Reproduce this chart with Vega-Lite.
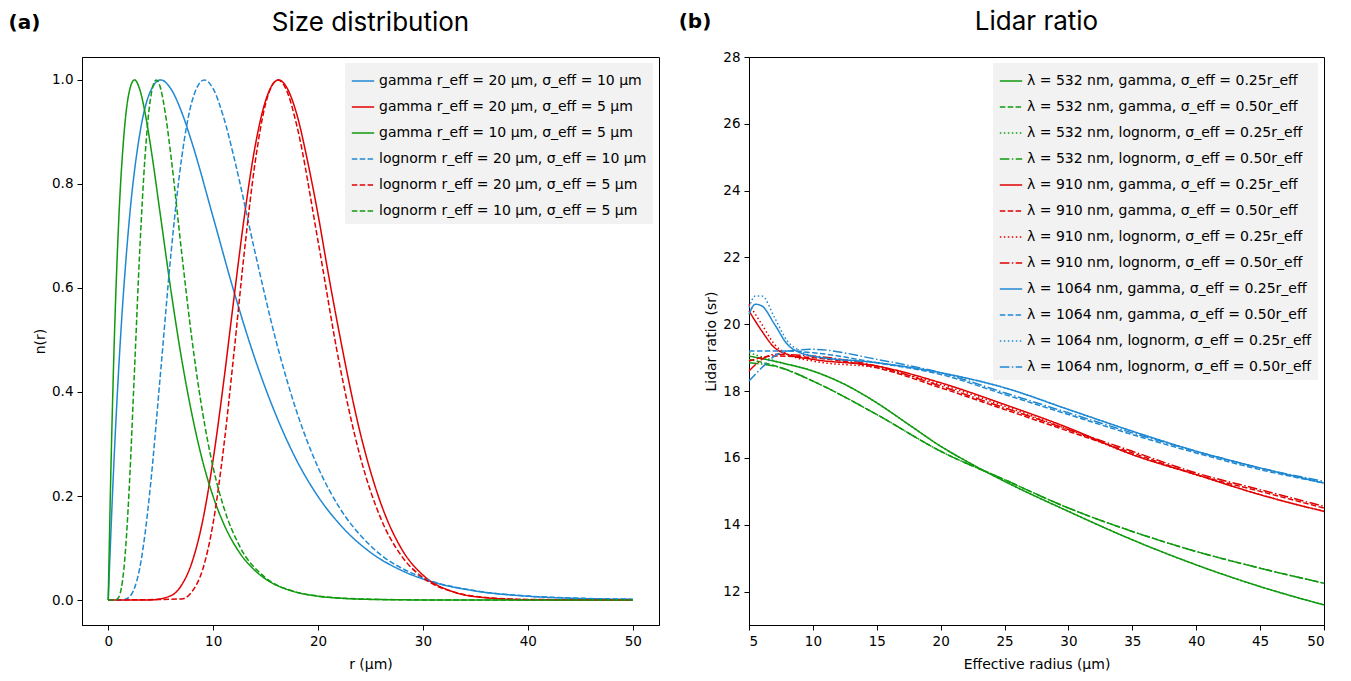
{
  "$schema": "https://vega.github.io/schema/vega-lite/v6.json",
  "padding": {"left": 8, "top": 8, "right": 5, "bottom": 0},
  "spacing": 18,
  "config": {
    "font": "DejaVu Sans",
    "view": {"stroke": "black", "strokeWidth": 1},
    "axis": {"grid": false, "domainColor": "black", "tickColor": "black", "labelFontSize": 13.5, "titleFontSize": 14, "titleFontWeight": "normal", "labelColor": "black", "titleColor": "black", "tickSize": 5, "labelPadding": 4},
    "axisX": {"titlePadding": 10},
    "legend": {"orient": "top-right", "fillColor": "#f2f2f2", "padding": 6, "offset": 6, "labelFontSize": 14, "symbolType": "stroke", "symbolStrokeWidth": 1.5, "symbolSize": 500, "rowPadding": 7, "labelLimit": 400, "title": null}
  },
  "resolve": {"scale": {"color": "independent", "strokeDash": "independent"}},
  "hconcat": [
    {
      "width": 577,
      "height": 568,
      "layer": [
        {
          "data": {"values": [
            {"s":"g1","r":0,"n":0},{"s":"g1","r":0.5,"n":0.246},{"s":"g1","r":1,"n":0.445},{"s":"g1","r":2,"n":0.729},{"s":"g1","r":3,"n":0.895},{"s":"g1","r":4,"n":0.977},{"s":"g1","r":5,"n":1},{"s":"g1","r":6,"n":0.982},{"s":"g1","r":7,"n":0.938},{"s":"g1","r":8,"n":0.878},{"s":"g1","r":10,"n":0.736},{"s":"g1","r":12,"n":0.592},{"s":"g1","r":14,"n":0.463},{"s":"g1","r":16,"n":0.355},{"s":"g1","r":18,"n":0.267},{"s":"g1","r":20,"n":0.199},{"s":"g1","r":22,"n":0.147},{"s":"g1","r":25,"n":0.0916},{"s":"g1","r":28,"n":0.0565},{"s":"g1","r":30,"n":0.0404},{"s":"g1","r":35,"n":0.0174},{"s":"g1","r":40,"n":0.0073},{"s":"g1","r":45,"n":0.003},{"s":"g1","r":50,"n":0.0012},
            {"s":"g2","r":0,"n":0},{"s":"g2","r":4,"n":0.0002},{"s":"g2","r":6,"n":0.0086},{"s":"g2","r":7,"n":0.029},{"s":"g2","r":8,"n":0.0735},{"s":"g2","r":9,"n":0.152},{"s":"g2","r":10,"n":0.27},{"s":"g2","r":11,"n":0.419},{"s":"g2","r":12,"n":0.583},{"s":"g2","r":13,"n":0.741},{"s":"g2","r":14,"n":0.872},{"s":"g2","r":15,"n":0.96},{"s":"g2","r":16.25,"n":1},{"s":"g2","r":17,"n":0.986},{"s":"g2","r":18,"n":0.932},{"s":"g2","r":19,"n":0.844},{"s":"g2","r":20,"n":0.741},{"s":"g2","r":21,"n":0.625},{"s":"g2","r":22,"n":0.516},{"s":"g2","r":24,"n":0.323},{"s":"g2","r":26,"n":0.185},{"s":"g2","r":28,"n":0.097},{"s":"g2","r":30,"n":0.048},{"s":"g2","r":33,"n":0.015},{"s":"g2","r":36,"n":0.0043},{"s":"g2","r":40,"n":0.0005},{"s":"g2","r":50,"n":0},
            {"s":"g3","r":0,"n":0},{"s":"g3","r":0.25,"n":0.246},{"s":"g3","r":0.5,"n":0.445},{"s":"g3","r":1,"n":0.729},{"s":"g3","r":1.5,"n":0.895},{"s":"g3","r":2,"n":0.977},{"s":"g3","r":2.5,"n":1},{"s":"g3","r":3,"n":0.982},{"s":"g3","r":3.5,"n":0.938},{"s":"g3","r":4,"n":0.878},{"s":"g3","r":5,"n":0.736},{"s":"g3","r":6,"n":0.592},{"s":"g3","r":7,"n":0.463},{"s":"g3","r":8,"n":0.355},{"s":"g3","r":9,"n":0.267},{"s":"g3","r":10,"n":0.199},{"s":"g3","r":11,"n":0.147},{"s":"g3","r":12.5,"n":0.0916},{"s":"g3","r":14,"n":0.0565},{"s":"g3","r":15,"n":0.0404},{"s":"g3","r":17.5,"n":0.0174},{"s":"g3","r":20,"n":0.0073},{"s":"g3","r":22.5,"n":0.003},{"s":"g3","r":25,"n":0.0012},{"s":"g3","r":30,"n":0.0002},{"s":"g3","r":50,"n":0},
            {"s":"l1","r":0,"n":0},{"s":"l1","r":1,"n":0},{"s":"l1","r":1.5,"n":0.0007},{"s":"l1","r":2,"n":0.0056},{"s":"l1","r":2.5,"n":0.0228},{"s":"l1","r":3,"n":0.061},{"s":"l1","r":3.5,"n":0.126},{"s":"l1","r":4,"n":0.215},{"s":"l1","r":5,"n":0.44},{"s":"l1","r":6,"n":0.67},{"s":"l1","r":7,"n":0.85},{"s":"l1","r":8,"n":0.96},{"s":"l1","r":9.16,"n":1},{"s":"l1","r":10,"n":0.983},{"s":"l1","r":11,"n":0.928},{"s":"l1","r":12,"n":0.85},{"s":"l1","r":14,"n":0.668},{"s":"l1","r":16,"n":0.498},{"s":"l1","r":18,"n":0.36},{"s":"l1","r":20,"n":0.255},{"s":"l1","r":22,"n":0.179},{"s":"l1","r":25,"n":0.1045},{"s":"l1","r":30,"n":0.0427},{"s":"l1","r":35,"n":0.0178},{"s":"l1","r":40,"n":0.0077},{"s":"l1","r":45,"n":0.0034},{"s":"l1","r":50,"n":0.0016},
            {"s":"l2","r":0,"n":0},{"s":"l2","r":7,"n":0.002},{"s":"l2","r":8,"n":0.0167},{"s":"l2","r":9,"n":0.0585},{"s":"l2","r":10,"n":0.148},{"s":"l2","r":11,"n":0.293},{"s":"l2","r":12,"n":0.478},{"s":"l2","r":13,"n":0.674},{"s":"l2","r":14,"n":0.841},{"s":"l2","r":15,"n":0.954},{"s":"l2","r":16.18,"n":1},{"s":"l2","r":17,"n":0.98},{"s":"l2","r":18,"n":0.91},{"s":"l2","r":20,"n":0.69},{"s":"l2","r":22,"n":0.458},{"s":"l2","r":24,"n":0.277},{"s":"l2","r":26,"n":0.156},{"s":"l2","r":28,"n":0.0835},{"s":"l2","r":30,"n":0.043},{"s":"l2","r":33,"n":0.015},{"s":"l2","r":36,"n":0.0051},{"s":"l2","r":40,"n":0.0012},{"s":"l2","r":50,"n":0},
            {"s":"l3","r":0,"n":0},{"s":"l3","r":0.5,"n":0},{"s":"l3","r":0.75,"n":0.0007},{"s":"l3","r":1,"n":0.0056},{"s":"l3","r":1.25,"n":0.0228},{"s":"l3","r":1.5,"n":0.061},{"s":"l3","r":1.75,"n":0.126},{"s":"l3","r":2,"n":0.215},{"s":"l3","r":2.5,"n":0.44},{"s":"l3","r":3,"n":0.67},{"s":"l3","r":3.5,"n":0.85},{"s":"l3","r":4,"n":0.96},{"s":"l3","r":4.58,"n":1},{"s":"l3","r":5,"n":0.983},{"s":"l3","r":5.5,"n":0.928},{"s":"l3","r":6,"n":0.85},{"s":"l3","r":7,"n":0.668},{"s":"l3","r":8,"n":0.498},{"s":"l3","r":9,"n":0.36},{"s":"l3","r":10,"n":0.255},{"s":"l3","r":11,"n":0.179},{"s":"l3","r":12.5,"n":0.1045},{"s":"l3","r":15,"n":0.0427},{"s":"l3","r":17.5,"n":0.0178},{"s":"l3","r":20,"n":0.0077},{"s":"l3","r":22.5,"n":0.0034},{"s":"l3","r":25,"n":0.0016},{"s":"l3","r":30,"n":0.0003},{"s":"l3","r":50,"n":0}
          ]},
          "mark": {"type": "line", "strokeWidth": 1.5, "interpolate": "monotone"},
          "encoding": {
            "x": {"field": "r", "type": "quantitative", "title": "r (μm)", "scale": {"domain": [-2.5, 52.5], "nice": false, "zero": false}, "axis": {"values": [0, 10, 20, 30, 40, 50]}},
            "y": {"field": "n", "type": "quantitative", "title": "n(r)", "scale": {"domain": [-0.048, 1.044], "nice": false, "zero": false}, "axis": {"values": [0, 0.2, 0.4, 0.6, 0.8, 1.0], "format": ".1f"}},
            "color": {"field": "s", "type": "nominal", "scale": {"domain": ["g1", "g2", "g3", "l1", "l2", "l3"], "range": ["#1f88d2", "#e00000", "#0f9a0f", "#1f88d2", "#e00000", "#0f9a0f"]},
              "legend": {"labelExpr": "{'g1':'gamma r_eff = 20 μm, σ_eff = 10 μm','g2':'gamma r_eff = 20 μm, σ_eff = 5 μm','g3':'gamma r_eff = 10 μm, σ_eff = 5 μm','l1':'lognorm r_eff = 20 μm, σ_eff = 10 μm','l2':'lognorm r_eff = 20 μm, σ_eff = 5 μm','l3':'lognorm r_eff = 10 μm, σ_eff = 5 μm'}[datum.label]"}},
            "strokeDash": {"field": "s", "type": "nominal", "scale": {"domain": ["g1", "g2", "g3", "l1", "l2", "l3"], "range": [[1, 0], [1, 0], [1, 0], [5.5, 2.4], [5.5, 2.4], [5.5, 2.4]]}}
          }
        },
        {
          "data": {"values": [{}]},
          "mark": {"type": "text", "text": "(a)", "fontSize": 20, "fontWeight": "bold", "align": "left", "baseline": "middle"},
          "encoding": {"x": {"datum": -9.5}, "y": {"datum": 1.11}}
        },
        {
          "data": {"values": [{}]},
          "mark": {"type": "text", "text": "Size distribution", "fontSize": 26, "font": "Inter", "align": "center", "baseline": "middle"},
          "encoding": {"x": {"datum": 25}, "y": {"datum": 1.11}}
        }
      ]
    },
    {
      "width": 575,
      "height": 568,
      "layer": [
        {
          "data": {"values": [
            {"s":"a1","x":5,"y":19.05},{"s":"a1","x":7.5,"y":18.85},{"s":"a1","x":10,"y":18.6},{"s":"a1","x":12.5,"y":18.2},{"s":"a1","x":15,"y":17.65},{"s":"a1","x":17.5,"y":17.0},{"s":"a1","x":20,"y":16.35},{"s":"a1","x":22.5,"y":15.8},{"s":"a1","x":25,"y":15.3},{"s":"a1","x":30,"y":14.4},{"s":"a1","x":35,"y":13.55},{"s":"a1","x":40,"y":12.8},{"s":"a1","x":45,"y":12.15},{"s":"a1","x":50,"y":11.6},
            {"s":"a2","x":5,"y":18.95},{"s":"a2","x":7.5,"y":18.7},{"s":"a2","x":10,"y":18.3},{"s":"a2","x":15,"y":17.3},{"s":"a2","x":20,"y":16.2},{"s":"a2","x":25,"y":15.35},{"s":"a2","x":30,"y":14.5},{"s":"a2","x":35,"y":13.8},{"s":"a2","x":40,"y":13.2},{"s":"a2","x":45,"y":12.7},{"s":"a2","x":50,"y":12.25},
            {"s":"a3","x":5,"y":19.15},{"s":"a3","x":7.5,"y":18.85},{"s":"a3","x":10,"y":18.6},{"s":"a3","x":12.5,"y":18.2},{"s":"a3","x":15,"y":17.65},{"s":"a3","x":17.5,"y":17.0},{"s":"a3","x":20,"y":16.35},{"s":"a3","x":22.5,"y":15.8},{"s":"a3","x":25,"y":15.3},{"s":"a3","x":30,"y":14.4},{"s":"a3","x":35,"y":13.55},{"s":"a3","x":40,"y":12.8},{"s":"a3","x":45,"y":12.15},{"s":"a3","x":50,"y":11.6},
            {"s":"a4","x":5,"y":18.85},{"s":"a4","x":7.5,"y":18.7},{"s":"a4","x":10,"y":18.3},{"s":"a4","x":15,"y":17.3},{"s":"a4","x":20,"y":16.2},{"s":"a4","x":25,"y":15.35},{"s":"a4","x":30,"y":14.5},{"s":"a4","x":35,"y":13.8},{"s":"a4","x":40,"y":13.2},{"s":"a4","x":45,"y":12.7},{"s":"a4","x":50,"y":12.25},
            {"s":"b1","x":5,"y":20.4},{"s":"b1","x":6,"y":19.8},{"s":"b1","x":7,"y":19.3},{"s":"b1","x":8,"y":19.1},{"s":"b1","x":10,"y":18.95},{"s":"b1","x":15,"y":18.75},{"s":"b1","x":20,"y":18.25},{"s":"b1","x":25,"y":17.6},{"s":"b1","x":30,"y":16.9},{"s":"b1","x":35,"y":16.1},{"s":"b1","x":40,"y":15.5},{"s":"b1","x":45,"y":14.9},{"s":"b1","x":50,"y":14.4},
            {"s":"b2","x":5,"y":18.9},{"s":"b2","x":7,"y":19.05},{"s":"b2","x":10,"y":19.0},{"s":"b2","x":15,"y":18.7},{"s":"b2","x":20,"y":18.1},{"s":"b2","x":25,"y":17.45},{"s":"b2","x":30,"y":16.8},{"s":"b2","x":35,"y":16.15},{"s":"b2","x":40,"y":15.5},{"s":"b2","x":45,"y":15.0},{"s":"b2","x":50,"y":14.5},
            {"s":"b3","x":5,"y":20.6},{"s":"b3","x":6,"y":20.0},{"s":"b3","x":7,"y":19.4},{"s":"b3","x":8,"y":19.1},{"s":"b3","x":10,"y":18.9},{"s":"b3","x":15,"y":18.7},{"s":"b3","x":20,"y":18.2},{"s":"b3","x":25,"y":17.55},{"s":"b3","x":30,"y":16.85},{"s":"b3","x":35,"y":16.1},{"s":"b3","x":40,"y":15.5},{"s":"b3","x":45,"y":14.9},{"s":"b3","x":50,"y":14.4},
            {"s":"b4","x":5,"y":18.6},{"s":"b4","x":6,"y":18.95},{"s":"b4","x":7,"y":19.1},{"s":"b4","x":10,"y":19.05},{"s":"b4","x":15,"y":18.75},{"s":"b4","x":20,"y":18.15},{"s":"b4","x":25,"y":17.5},{"s":"b4","x":30,"y":16.85},{"s":"b4","x":35,"y":16.2},{"s":"b4","x":40,"y":15.55},{"s":"b4","x":45,"y":15.05},{"s":"b4","x":50,"y":14.55},
            {"s":"c1","x":5,"y":20.3},{"s":"c1","x":5.5,"y":20.6},{"s":"c1","x":6,"y":20.55},{"s":"c1","x":7,"y":20.0},{"s":"c1","x":8,"y":19.4},{"s":"c1","x":9,"y":19.15},{"s":"c1","x":10,"y":19.05},{"s":"c1","x":15,"y":18.85},{"s":"c1","x":20,"y":18.55},{"s":"c1","x":25,"y":18.1},{"s":"c1","x":30,"y":17.45},{"s":"c1","x":35,"y":16.8},{"s":"c1","x":40,"y":16.2},{"s":"c1","x":45,"y":15.7},{"s":"c1","x":50,"y":15.25},
            {"s":"c2","x":5,"y":19.2},{"s":"c2","x":8,"y":19.2},{"s":"c2","x":10,"y":19.15},{"s":"c2","x":15,"y":18.85},{"s":"c2","x":20,"y":18.5},{"s":"c2","x":25,"y":17.9},{"s":"c2","x":30,"y":17.3},{"s":"c2","x":35,"y":16.7},{"s":"c2","x":40,"y":16.15},{"s":"c2","x":45,"y":15.65},{"s":"c2","x":50,"y":15.25},
            {"s":"c3","x":5,"y":20.5},{"s":"c3","x":5.5,"y":20.85},{"s":"c3","x":6,"y":20.85},{"s":"c3","x":7,"y":20.2},{"s":"c3","x":8,"y":19.5},{"s":"c3","x":9,"y":19.2},{"s":"c3","x":10,"y":19.05},{"s":"c3","x":15,"y":18.85},{"s":"c3","x":20,"y":18.55},{"s":"c3","x":25,"y":18.1},{"s":"c3","x":30,"y":17.45},{"s":"c3","x":35,"y":16.8},{"s":"c3","x":40,"y":16.2},{"s":"c3","x":45,"y":15.7},{"s":"c3","x":50,"y":15.25},
            {"s":"c4","x":5,"y":18.3},{"s":"c4","x":6,"y":18.7},{"s":"c4","x":7,"y":19.05},{"s":"c4","x":8,"y":19.2},{"s":"c4","x":10,"y":19.25},{"s":"c4","x":15,"y":18.95},{"s":"c4","x":20,"y":18.55},{"s":"c4","x":25,"y":17.95},{"s":"c4","x":30,"y":17.35},{"s":"c4","x":35,"y":16.75},{"s":"c4","x":40,"y":16.2},{"s":"c4","x":45,"y":15.7},{"s":"c4","x":50,"y":15.3}
          ]},
          "mark": {"type": "line", "strokeWidth": 1.5, "interpolate": "monotone"},
          "encoding": {
            "x": {"field": "x", "type": "quantitative", "title": "Effective radius (μm)", "scale": {"domain": [5, 50], "nice": false, "zero": false}, "axis": {"values": [5, 10, 15, 20, 25, 30, 35, 40, 45, 50]}},
            "y": {"field": "y", "type": "quantitative", "title": "Lidar ratio (sr)", "scale": {"domain": [11, 28], "nice": false, "zero": false}, "axis": {"values": [12, 14, 16, 18, 20, 22, 24, 26, 28]}},
            "color": {"field": "s", "type": "nominal", "scale": {"domain": ["a1", "a2", "a3", "a4", "b1", "b2", "b3", "b4", "c1", "c2", "c3", "c4"], "range": ["#0f9a0f", "#0f9a0f", "#0f9a0f", "#0f9a0f", "#e00000", "#e00000", "#e00000", "#e00000", "#1f88d2", "#1f88d2", "#1f88d2", "#1f88d2"]},
              "legend": {"labelExpr": "{'a1':'λ = 532 nm, gamma, σ_eff = 0.25r_eff','a2':'λ = 532 nm, gamma, σ_eff = 0.50r_eff','a3':'λ = 532 nm, lognorm, σ_eff = 0.25r_eff','a4':'λ = 532 nm, lognorm, σ_eff = 0.50r_eff','b1':'λ = 910 nm, gamma, σ_eff = 0.25r_eff','b2':'λ = 910 nm, gamma, σ_eff = 0.50r_eff','b3':'λ = 910 nm, lognorm, σ_eff = 0.25r_eff','b4':'λ = 910 nm, lognorm, σ_eff = 0.50r_eff','c1':'λ = 1064 nm, gamma, σ_eff = 0.25r_eff','c2':'λ = 1064 nm, gamma, σ_eff = 0.50r_eff','c3':'λ = 1064 nm, lognorm, σ_eff = 0.25r_eff','c4':'λ = 1064 nm, lognorm, σ_eff = 0.50r_eff'}[datum.label]"}},
            "strokeDash": {"field": "s", "type": "nominal", "scale": {"domain": ["a1", "a2", "a3", "a4", "b1", "b2", "b3", "b4", "c1", "c2", "c3", "c4"], "range": [[1, 0], [5.5, 2.4], [1.5, 2.5], [9.6, 2.4, 1.5, 2.4], [1, 0], [5.5, 2.4], [1.5, 2.5], [9.6, 2.4, 1.5, 2.4], [1, 0], [5.5, 2.4], [1.5, 2.5], [9.6, 2.4, 1.5, 2.4]]}}
          }
        },
        {
          "data": {"values": [{}]},
          "mark": {"type": "text", "text": "(b)", "fontSize": 20, "fontWeight": "bold", "align": "left", "baseline": "middle"},
          "encoding": {"x": {"datum": -0.5}, "y": {"datum": 29.05}}
        },
        {
          "data": {"values": [{}]},
          "mark": {"type": "text", "text": "Lidar ratio", "fontSize": 26, "font": "Inter", "align": "center", "baseline": "middle"},
          "encoding": {"x": {"datum": 27.5}, "y": {"datum": 29.05}}
        }
      ]
    }
  ]
}
